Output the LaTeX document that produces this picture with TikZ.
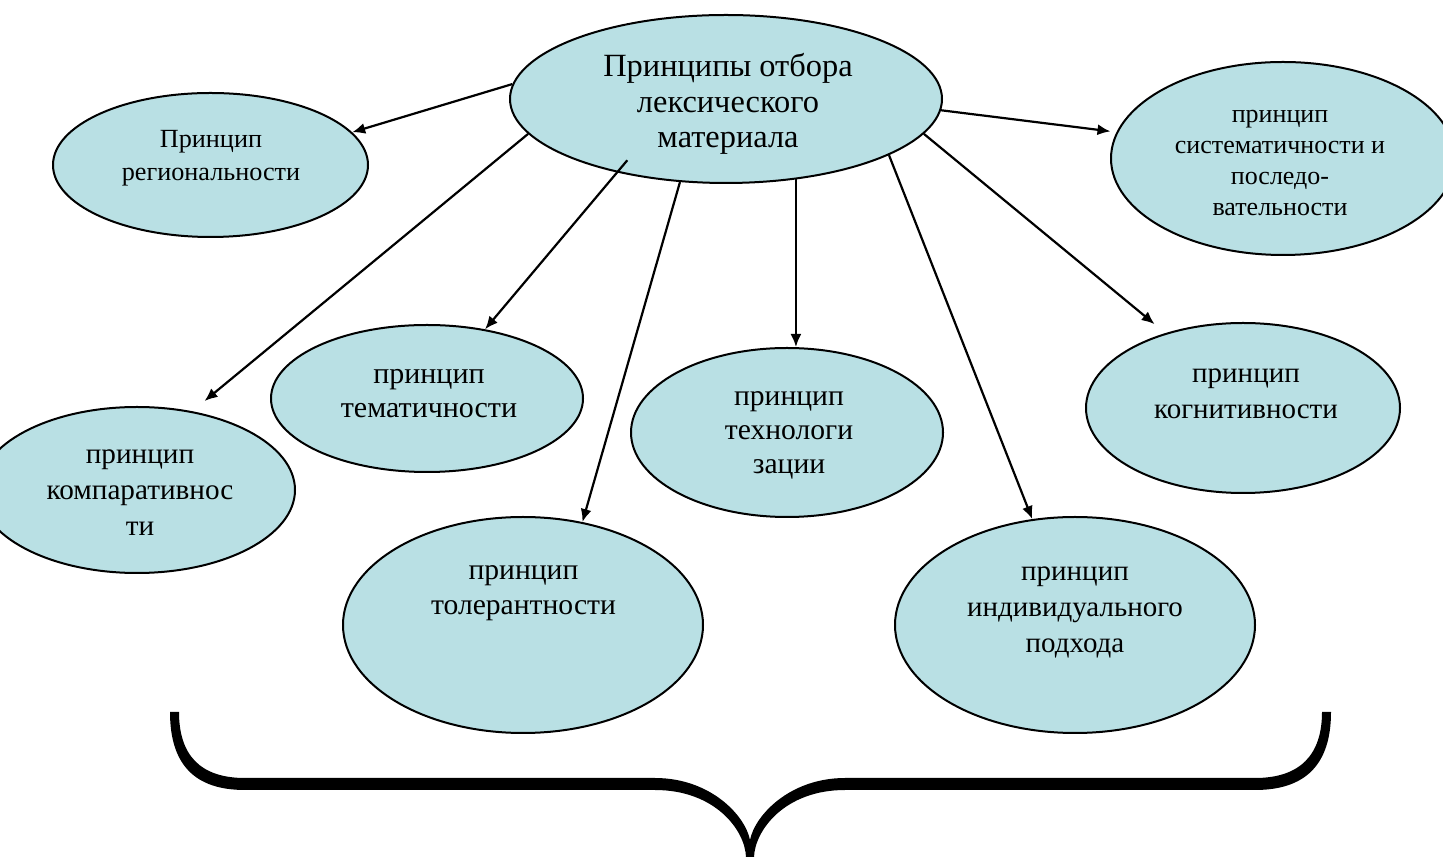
\documentclass[tikz,border=0pt]{standalone}
\usepackage{fontspec}
\setmainfont{Liberation Serif}
\usetikzlibrary{arrows.meta,shapes.geometric}
\definecolor{bubblefill}{RGB}{185,224,228}
\begin{document}
\begin{tikzpicture}[>={Latex[length=6.5bp,width=5.5bp]},line join=bevel,
  bubble/.style={ellipse,draw,line width=1bp,fill=bubblefill,inner sep=0pt},
  txt/.style={align=center,inner sep=0pt,font=\fontsize{14bp}{17.5bp}\selectfont},
  link/.style={black,->,line width=1.1bp},
  ]
%%
\useasboundingbox (0bp,0bp) rectangle (721.5bp,428.5bp);
\clip (0bp,0bp) rectangle (721.5bp,428.5bp);
%%
\node (cent) at (363bp,379bp) [bubble,minimum width=216bp,minimum height=84bp] {};
  \node (cent-lbl) at (364bp,376.5bp) [txt,font=\fontsize{16.2bp}{17.75bp}\selectfont] {Принципы отбора\\лексического\\материала};
\node (regio) at (105.25bp,346bp) [bubble,minimum width=157.5bp,minimum height=72bp] {};
  \node (regio-lbl) at (105.5bp,349.6bp) [txt,font=\fontsize{13.1bp}{16.5bp}\selectfont] {Принцип\\региональности};
\node (syst) at (641.5bp,349.25bp) [bubble,minimum width=172bp,minimum height=96.5bp] {};
  \node (syst-lbl) at (640bp,347bp) [txt,font=\fontsize{13bp}{15.4bp}\selectfont] {принцип\\систематичности и\\последо-\\вательности};
\node (compar) at (68.5bp,183.5bp) [bubble,minimum width=158bp,minimum height=83bp] {};
  \node (compar-lbl) at (70bp,182.25bp) [txt,font=\fontsize{14.6bp}{18bp}\selectfont] {принцип\\компаративнос\\ти};
\node (them) at (213.5bp,229.25bp) [bubble,minimum width=156bp,minimum height=73.5bp] {};
  \node (them-lbl) at (214.5bp,231.7bp) [txt,font=\fontsize{15bp}{17bp}\selectfont] {принцип\\тематичности};
\node (techn) at (393.5bp,212.25bp) [bubble,minimum width=156bp,minimum height=84.5bp] {};
  \node (techn-lbl) at (394.5bp,210.85bp) [txt,font=\fontsize{14.8bp}{17bp}\selectfont] {принцип\\технологи\\зации};
\node (cogn) at (621.5bp,224.5bp) [bubble,minimum width=157bp,minimum height=85bp] {};
  \node (cogn-lbl) at (623bp,231.75bp) [txt,font=\fontsize{14.5bp}{18bp}\selectfont] {принцип\\когнитивности};
\node (toler) at (261.5bp,116bp) [bubble,minimum width=180bp,minimum height=108bp] {};
  \node (toler-lbl) at (261.75bp,132bp) [txt,font=\fontsize{14.8bp}{17.5bp}\selectfont] {принцип\\толерантности};
\node (indiv) at (537.5bp,116bp) [bubble,minimum width=180bp,minimum height=108bp] {};
  \node (indiv-lbl) at (537.5bp,122.25bp) [txt,font=\fontsize{14.5bp}{18bp}\selectfont] {принцип\\индивидуального\\подхода};
%
\draw [link] (cent.176.8) -- (regio.13.2);
\draw [link,shorten >=3bp] (cent.-3.2) -- (syst.171.9);
\draw [link,shorten >=8bp] (cent.190.7) -- (compar.55.6);
\draw [link,shorten <=-8bp] (cent.214.6) -- (them.50.4);
\draw [link] (cent.241.3) -- (toler.60.7);
\draw [link] (cent.-49) -- (cent.-49 |- techn.north);
\draw [link] (cent.-19.2) -- (indiv.112.8);
\draw [link,shorten >=7bp] (cent.-10.8) -- (cogn.136);
%
\fill [black] (85bp,72.5bp) .. controls (85bp,46bp) and (97.5bp,33.5bp) .. (122.5bp,33.5bp)
  -- (327.5bp,33.5bp) .. controls (357.5bp,33.5bp) and (372.5bp,13.5bp) .. (373bp,0bp)
  -- (377bp,0bp) .. controls (377.5bp,13.5bp) and (392.5bp,33.5bp) .. (422.5bp,33.5bp)
  -- (627.5bp,33.5bp) .. controls (652.5bp,33.5bp) and (665.5bp,46bp) .. (665.5bp,72.5bp)
  -- (661bp,72.5bp) .. controls (661bp,51bp) and (650bp,39.5bp) .. (627.5bp,39.5bp)
  -- (422.5bp,39.5bp) .. controls (395bp,39.5bp) and (377.5bp,21bp) .. (375bp,8.5bp)
  .. controls (372.5bp,21bp) and (355bp,39.5bp) .. (327.5bp,39.5bp)
  -- (122.5bp,39.5bp) .. controls (100bp,39.5bp) and (89.5bp,51bp) .. (89.5bp,72.5bp) -- cycle;
%
\end{tikzpicture}
\end{document}
